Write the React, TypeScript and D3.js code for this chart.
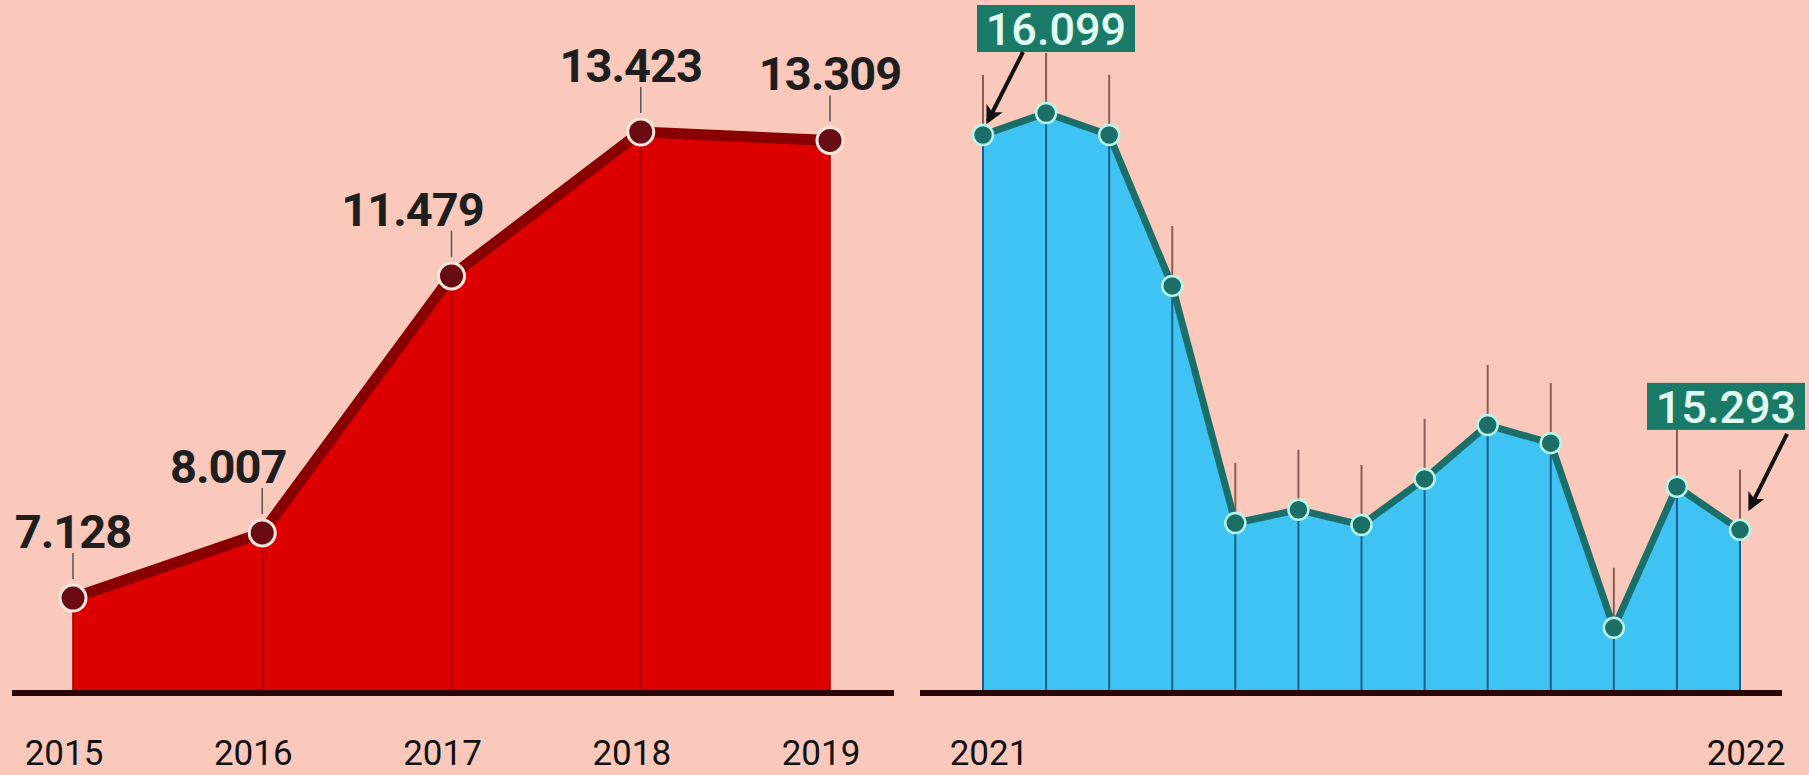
import React from "react";
import * as d3 from "d3";

// ---------- data ----------
const years = ["2015", "2016", "2017", "2018", "2019"];
const yearValues = [7.128, 8.007, 11.479, 13.423, 13.309];

const months = [
  "2021-01", "2021-02", "2021-03", "2021-04", "2021-05", "2021-06", "2021-07",
  "2021-08", "2021-09", "2021-10", "2021-11", "2021-12", "2022-01",
];
const monthValues = [
  16.099, 16.144, 16.099, 15.791, 15.307, 15.334, 15.303,
  15.397, 15.507, 15.47, 15.093, 15.381, 15.293,
];
const monthTickLabels = ["2021", "", "", "", "", "", "", "", "", "", "", "", "2022"];
const highlightedMonths = [0, 12];

// ---------- layout (not data) ----------
const W = 1809;
const H = 775;
const BASE_Y = 693;
const leftLabelShift = [0, -34, -39, -10, 0];
const annotationLayout = [
  { dx: 73, dy: -130, sx: 40, sy: 0, ex: 5, ey: -14 },
  { dx: -14, dy: -147, sx: 47, sy: 4, ex: 10, ey: -22 },
];

const BG = "#fbc9bb";

export default function App() {
  // left chart scales
  const xL = d3.scalePoint<string>().domain(years).range([73, 830]);
  const yL = d3.scaleLinear().domain([5.845, 13.423]).range([BASE_Y, 132]);
  const leftPts = years.map((yr, i) => ({ x: xL(yr) as number, y: yL(yearValues[i]), v: yearValues[i], yr }));

  const areaL = d3
    .area<any>()
    .x((d) => d.x)
    .y0(BASE_Y)
    .y1((d) => d.y);
  const lineL = d3
    .line<any>()
    .x((d) => d.x)
    .y((d) => d.y);

  // right chart scales
  const xR = d3.scalePoint<string>().domain(months).range([983, 1740]);
  const yR = d3.scaleLinear().domain([14.96, 16.099]).range([BASE_Y, 135]);
  const rightPts = months.map((m, i) => ({ x: xR(m) as number, y: yR(monthValues[i]), v: monthValues[i], m }));

  const fmt = (v: number) => v.toFixed(3);

  return (
    <svg
      width={W}
      height={H}
      viewBox={`0 0 ${W} ${H}`}
      style={{ position: "absolute", left: 0, top: 0, display: "block", background: BG }}
      fontFamily="Roboto, 'Noto Sans', sans-serif"
    >
      <defs>
        <marker
          id="arrowHead"
          viewBox="0 0 10 10"
          refX="8"
          refY="5"
          markerWidth="18"
          markerHeight="18"
          markerUnits="userSpaceOnUse"
          orient="auto"
        >
          <path d="M0,0 L10,5 L0,10 L2.5,5 Z" fill="#111" />
        </marker>
      </defs>
      <rect x={0} y={0} width={W} height={H} fill={BG} />

      {/* ---------- LEFT CHART ---------- */}
      <path d={areaL(leftPts) as string} fill="#dc0000" />
      {leftPts.map((p, i) => (
        <line key={"dl" + i} x1={p.x} x2={p.x} y1={p.y} y2={BASE_Y} stroke="#a30000" strokeWidth={2} opacity={0.8} />
      ))}
      <path d={lineL(leftPts) as string} fill="none" stroke="#8a0000" strokeWidth={11} strokeLinejoin="round" />
      <line x1={12} x2={894} y1={BASE_Y} y2={BASE_Y} stroke="#2a0606" strokeWidth={6} />
      {leftPts.map((p, i) => (
        <g key={"lp" + i}>
          <line x1={p.x} x2={p.x} y1={p.y - 45} y2={p.y - 19} stroke="#555" strokeWidth={1.5} />
          <circle cx={p.x} cy={p.y} r={13} fill="#6a0a12" stroke="#ffe6dc" strokeWidth={3} />
          <text
            x={p.x + leftLabelShift[i]}
            y={p.y - 50}
            textAnchor="middle"
            fontSize={47}
            fontWeight={700}
            letterSpacing={-1}
            fill="#1e1e1e"
          >
            {fmt(p.v)}
          </text>
          <text x={p.x - 9} y={765} textAnchor="middle" fontSize={35} fill="#111">
            {p.yr}
          </text>
        </g>
      ))}

      {/* ---------- RIGHT CHART ---------- */}
      <path d={areaL(rightPts) as string} fill="#3fc3f3" />
      {rightPts.map((p, i) => (
        <g key={"rl" + i}>
          <line x1={p.x} x2={p.x} y1={p.y} y2={BASE_Y} stroke="#1c5d8c" strokeWidth={2} />
          <line x1={p.x} x2={p.x} y1={p.y - 60} y2={p.y} stroke="#8f5a55" strokeWidth={2} />
        </g>
      ))}
      <path d={lineL(rightPts) as string} fill="none" stroke="#1a6f6a" strokeWidth={7} strokeLinejoin="round" />
      <line x1={920} x2={1782} y1={BASE_Y} y2={BASE_Y} stroke="#2a0606" strokeWidth={6} />
      {rightPts.map((p, i) => (
        <g key={"rp" + i}>
          <circle cx={p.x} cy={p.y} r={10} fill="#1b6f66" stroke="#b8f5ea" strokeWidth={2.5} />
          {monthTickLabels[i] && (
            <text x={p.x + 6} y={765} textAnchor="middle" fontSize={35} fill="#111">
              {monthTickLabels[i]}
            </text>
          )}
        </g>
      ))}

      {/* annotations */}
      {highlightedMonths.map((idx, k) => {
        const p = rightPts[idx];
        const a = annotationLayout[k];
        const bw = 158;
        const bh = 47;
        const cx = p.x + a.dx;
        const top = p.y + a.dy;
        return (
          <g key={"an" + k}>
            <rect x={cx - bw / 2} y={top} width={bw} height={bh} fill="#1a7a68" />
            <text
              x={cx}
              y={top + bh - 7}
              textAnchor="middle"
              fontSize={45}
              fontWeight={500}
              fill="#e2fff4"
            >
              {fmt(p.v)}
            </text>
            <line
              x1={p.x + a.sx}
              y1={top + bh + a.sy}
              x2={p.x + a.ex}
              y2={p.y + a.ey}
              stroke="#111"
              strokeWidth={4}
              markerEnd="url(#arrowHead)"
            />
          </g>
        );
      })}
    </svg>
  );
}
